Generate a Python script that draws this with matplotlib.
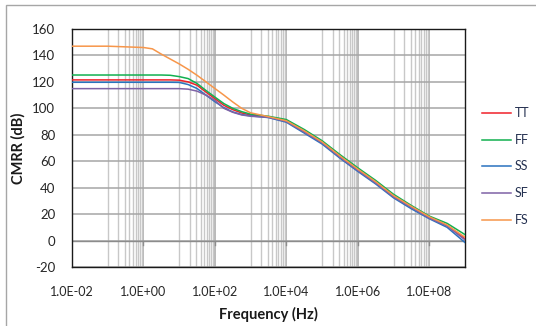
import matplotlib
matplotlib.use("Agg")
import matplotlib.pyplot as plt
from matplotlib.lines import Line2D
from matplotlib.patches import Rectangle
import numpy as np

plt.rcParams['font.family'] = ['Lato', 'DejaVu Sans']
plt.rcParams['axes.unicode_minus'] = False

freq = [1e-2, 1e-1, 1, 1.78, 3.16, 5.62, 10, 17.8, 31.6, 56.2, 100, 178, 316, 562,
        1e3, 3.16e3, 1e4, 3.16e4, 1e5, 3.16e5, 1e6, 3.16e6, 1e7, 3.16e7, 1e8, 3.16e8, 1e9]

TT = [121.5, 121.5, 121.5, 121.5, 121.5, 121.5, 121.3, 120.0, 117.5, 112.3, 107.3, 102.3, 99.0, 96.5,
      95.0, 93.5, 90.5, 82.6, 74.3, 63.5, 53.5, 44.0, 33.6, 25.4, 17.5, 11.4, 1.5]
FF = [125.2, 125.2, 125.2, 125.2, 125.2, 125.0, 124.0, 122.5, 118.8, 113.5, 108.5, 103.6, 100.0, 97.5,
      95.6, 94.0, 91.5, 84.0, 75.5, 65.0, 55.0, 45.5, 35.0, 26.5, 18.5, 13.0, 4.5]
SS = [119.7, 119.7, 119.7, 119.7, 119.7, 119.7, 119.6, 118.0, 115.0, 110.0, 105.0, 100.5, 97.3, 95.3,
      94.3, 93.0, 89.5, 81.3, 73.0, 62.3, 52.3, 42.8, 32.3, 24.0, 16.5, 10.0, -1.5]
SF = [114.9, 114.9, 114.9, 114.9, 114.9, 114.9, 114.9, 114.5, 113.0, 110.0, 106.0, 100.0, 97.0, 95.0,
      94.0, 93.2, 90.0, 82.0, 73.8, 63.0, 53.0, 43.5, 33.0, 25.0, 17.0, 11.0, 0.5]
FS = [147.0, 147.0, 146.0, 145.0, 141.0, 137.3, 133.6, 129.5, 125.0, 120.0, 115.0, 110.0, 104.8, 100.0,
      96.6, 93.7, 90.6, 83.0, 74.6, 64.0, 54.0, 44.5, 34.0, 25.8, 18.0, 11.8, 2.5]

series_names = ['TT', 'FF', 'SS', 'SF', 'FS']
series_values = [TT, FF, SS, SF, FS]
series_colors = ['#F0202A', '#12B050', '#2A72BE', '#7E62A6', '#F7964A']

xtick_vals = [1e-2, 1e0, 1e2, 1e4, 1e6, 1e8]
xtick_labels = ['1.0E-02', '1.0E+00', '1.0E+02', '1.0E+04', '1.0E+06', '1.0E+08']
ytick_vals = [-20, 0, 20, 40, 60, 80, 100, 120, 140, 160]

W, H = 536, 326
fig = plt.figure(figsize=(W / 100, H / 100), dpi=100)
fig.patch.set_facecolor('white')

# outer chart border
fig.add_artist(Rectangle((6 / W, -0.1), 1.2, (H - 5) / H + 0.1, transform=fig.transFigure,
                         fill=False, edgecolor='#A6A6A6', linewidth=1.0))

ax = fig.add_axes([72 / W, (H - 267) / H, (465 - 72) / W, (267 - 29) / H])
ax.set_xscale('log')
ax.set_xlim(1e-2, 1e9)
ax.set_ylim(-20, 160)

# gridlines
minor_pos = [k * 10.0 ** p for p in [-1, 1, 3, 5, 7] for k in range(1, 10)]
ax.set_xticks(xtick_vals)
ax.set_xticklabels(xtick_labels)
ax.set_xticks(minor_pos, minor=True)
ax.set_yticks(ytick_vals)
ax.grid(True, which='major', axis='both', color='#A6A6A6', linewidth=1.1)
ax.grid(True, which='minor', axis='x', color='#C8C8C8', linewidth=1.0)
ax.set_axisbelow(True)

ax.tick_params(axis='both', which='both', length=0)
ax.tick_params(axis='x', which='minor', labelbottom=False)
ax.tick_params(axis='x', pad=14, labelsize=9, labelcolor='#262626')
ax.tick_params(axis='y', pad=12, labelsize=9.5, labelcolor='#262626')

# horizontal axis crossing at 0 with small tick marks
ax.axhline(0, color='#8C8C8C', linewidth=1.0, zorder=1.5)
for xv in xtick_vals[1:]:
    ax.plot([xv, xv], [0, -3.5], color='#8C8C8C', linewidth=1.0, zorder=1.5)

for spine in ax.spines.values():
    spine.set_color('#1A1A1A')
    spine.set_linewidth(1.0)

for name, vals, col in zip(series_names, series_values, series_colors):
    ax.plot(freq, vals, color=col, linewidth=1.1, label=name, zorder=3)

ax.set_ylabel('CMRR (dB)', fontsize=10.5, fontweight='bold', color='#1A1A1A')
ax.yaxis.set_label_coords(-(72 - 26) / (465 - 72), 0.5)
ax.set_xlabel('Frequency (Hz)', fontsize=10.5, fontweight='bold', color='#1A1A1A', va='center')
ax.xaxis.set_label_coords(0.5, -(314 - 267) / (267 - 29))

# legend (manual, to match spacing)
for i, (name, col) in enumerate(zip(series_names, series_colors)):
    yy = (H - (112.7 + i * 26.8)) / H
    fig.add_artist(Line2D([482 / W, 511 / W], [yy, yy], transform=fig.transFigure,
                          color=col, linewidth=1.1))
    fig.text(515 / W, yy, name, fontsize=9, color='#243050', va='center', ha='left')

fig.savefig('out.png', dpi=100, facecolor='white')
